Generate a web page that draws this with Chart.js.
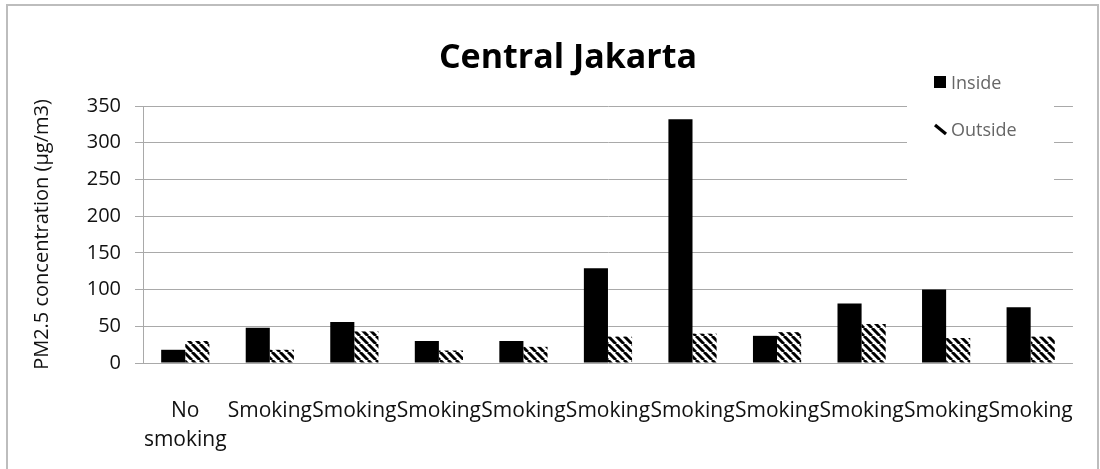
<!DOCTYPE html>
<head>
  <meta charset="UTF-8">
  <title>Central Jakarta</title>
  <script src="https://cdn.jsdelivr.net/npm/chart.js"></script>
  <style>
    html, body { margin: 0; padding: 0; background: #fff; }
  </style>
</head>
<body>
    <canvas id="pmChart" width="1100" height="469"></canvas>
    <script>
        // values (PM2.5, ug/m3)
        var categories = [['No', 'smoking'], 'Smoking', 'Smoking', 'Smoking', 'Smoking', 'Smoking',
                          'Smoking', 'Smoking', 'Smoking', 'Smoking', 'Smoking'];
        var insideValues = [18, 48, 56, 30, 30, 129, 332, 37, 81, 100, 76];
        var outsideValues = [30, 18, 43, 17, 22, 36, 40, 42, 53, 34, 36];
        var yTicks = [0, 50, 100, 150, 200, 250, 300, 350];
        var seriesNames = ['Inside', 'Outside'];

        var FONT = "'Open Sans', 'DejaVu Sans', sans-serif";

        // diagonal hatch used for the Outside series
        function makeHatch() {
            var s = 8;
            var c = document.createElement('canvas');
            c.width = s; c.height = s;
            var g = c.getContext('2d');
            g.fillStyle = '#fff';
            g.fillRect(0, 0, s, s);
            g.strokeStyle = '#000';
            g.lineWidth = 3;
            [-s, 0, s].forEach(function(k) {
                g.beginPath();
                g.moveTo(k, 0);
                g.lineTo(k + s, s);
                g.stroke();
            });
            return g.createPattern(c, 'repeat');
        }

        var framePlugin = {
            id: 'frame',
            beforeDraw: function(chart) {
                var ctx = chart.ctx;
                ctx.save();
                ctx.fillStyle = '#fff';
                ctx.fillRect(0, 0, chart.width, chart.height);
                ctx.strokeStyle = '#bdbdbd';
                ctx.lineWidth = 2;
                ctx.strokeRect(7, 5, 1091, 480);
                ctx.restore();
            },
            afterDraw: function(chart) {
                var ctx = chart.ctx;
                ctx.save();
                // title
                ctx.fillStyle = '#000';
                ctx.font = 'bold 34px ' + FONT;
                ctx.textAlign = 'center';
                ctx.textBaseline = 'middle';
                ctx.fillText('Central Jakarta', 568, 58);
                // legend box
                ctx.fillStyle = '#fff';
                ctx.fillRect(907, 64, 147, 128);
                ctx.fillStyle = '#000';
                ctx.fillRect(934, 76, 12, 12);
                ctx.strokeStyle = '#000';
                ctx.lineWidth = 3.2;
                ctx.beginPath();
                ctx.moveTo(935, 125);
                ctx.lineTo(946, 134);
                ctx.stroke();
                ctx.fillStyle = '#666';
                ctx.font = '18px ' + FONT;
                ctx.textAlign = 'left';
                ctx.fillText(seriesNames[0], 951, 84);
                ctx.fillText(seriesNames[1], 951, 131);
                ctx.restore();
            }
        };

        var ctx = document.getElementById('pmChart').getContext('2d');
        new Chart(ctx, {
            type: 'bar',
            data: {
                labels: categories,
                datasets: [{
                    label: seriesNames[0],
                    data: insideValues,
                    backgroundColor: '#000'
                }, {
                    label: seriesNames[1],
                    data: outsideValues,
                    backgroundColor: makeHatch()
                }]
            },
            options: {
                responsive: false,
                animation: false,
                categoryPercentage: 0.57,
                barPercentage: 1.0,
                layout: { padding: { left: 8, right: 27, top: 106, bottom: 0 } },
                scales: {
                    x: {
                        grid: { display: false },
                        border: { display: false },
                        ticks: {
                            autoSkip: false,
                            maxRotation: 0,
                            minRotation: 0,
                            padding: 26,
                            color: '#111',
                            font: { family: FONT, size: 21, lineHeight: 1.35 }
                        },
                        afterFit: function(scale) { scale.height = 106; }
                    },
                    y: {
                        min: 0,
                        max: 350,
                        afterBuildTicks: function(scale) {
                            scale.ticks = yTicks.map(function(v) { return { value: v }; });
                        },
                        grid: { color: '#a9a9a9', tickLength: 8, lineWidth: 1 },
                        border: { color: '#a9a9a9' },
                        ticks: {
                            padding: 14,
                            color: '#111',
                            font: { family: FONT, size: 20 }
                        },
                        title: {
                            display: true,
                            text: 'PM2.5 concentration (μg/m3)',
                            color: '#111',
                            padding: { top: 22, bottom: 0 },
                            font: { family: FONT, size: 20 }
                        },
                        afterFit: function(scale) { scale.width = 135; }
                    }
                },
                plugins: {
                    legend: { display: false },
                    title: { display: false },
                    tooltip: { enabled: false }
                }
            },
            plugins: [framePlugin]
        });
    </script>
</body>
</html>
